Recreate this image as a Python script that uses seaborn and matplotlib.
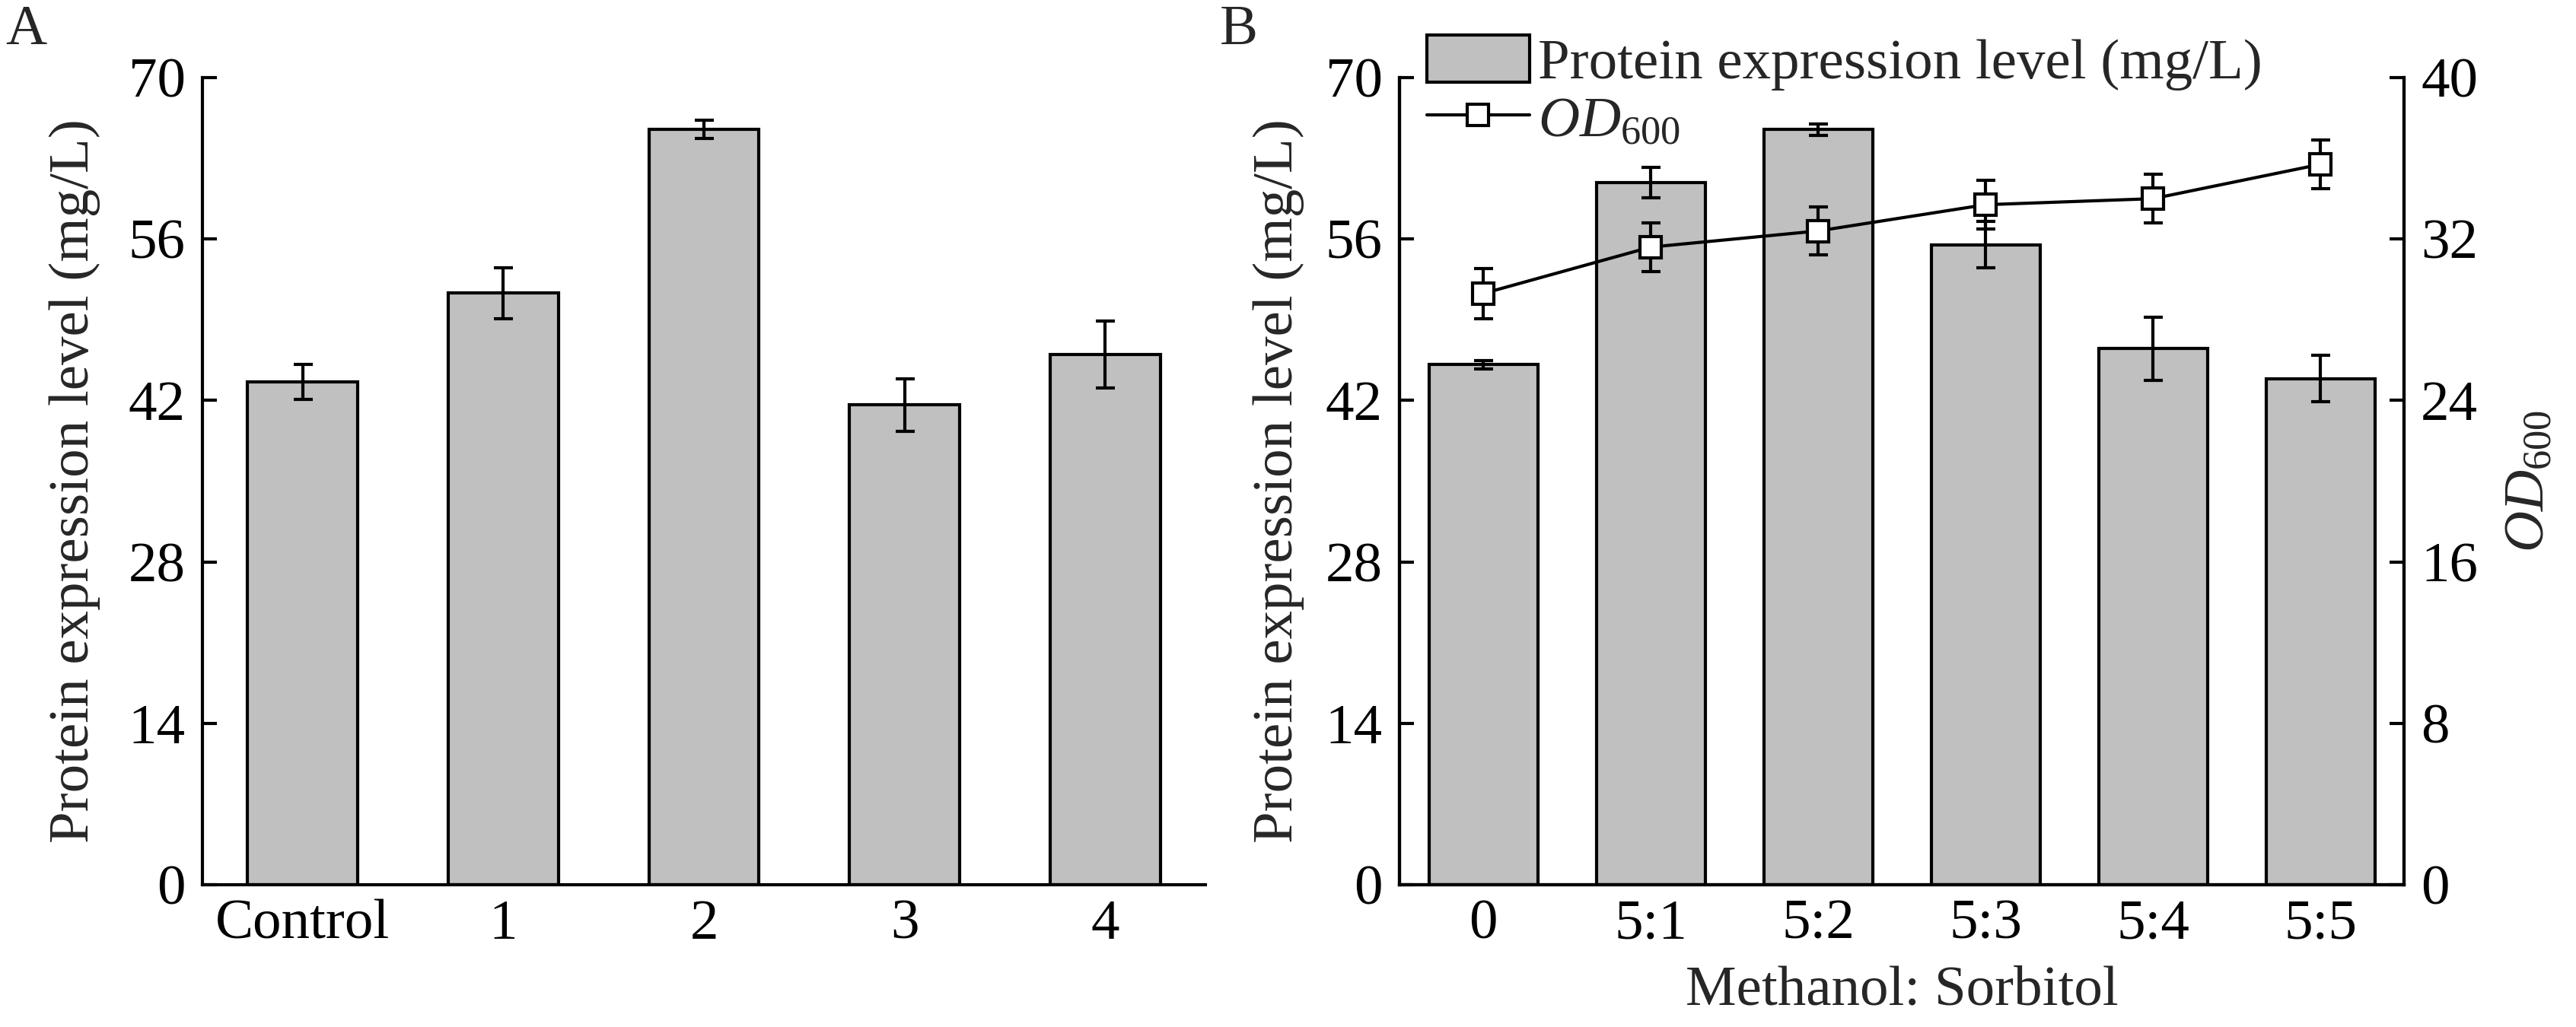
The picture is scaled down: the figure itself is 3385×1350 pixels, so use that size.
import numpy as np
import matplotlib
matplotlib.use("Agg")
import matplotlib.pyplot as plt
import seaborn as sns
from matplotlib.patches import Patch
from matplotlib.lines import Line2D

# data
groups_a = ["Control", "1", "2", "3", "4"]
protein_a = [43.6, 51.3, 65.5, 41.6, 46.0]
protein_a_err = [1.5, 2.2, 0.8, 2.3, 2.9]

ratios_b = ["0", "5:1", "5:2", "5:3", "5:4", "5:5"]
protein_b = [45.1, 60.9, 65.5, 55.5, 46.5, 43.9]
protein_b_err = [0.35, 1.3, 0.5, 2.0, 2.75, 2.0]
od600 = [29.3, 31.6, 32.4, 33.7, 34.0, 35.7]
od600_err = [1.25, 1.2, 1.2, 1.2, 1.2, 1.2]

sns.set_style("ticks")
plt.rcParams["font.family"] = ["Liberation Serif", "DejaVu Serif"]
plt.rcParams["mathtext.fontset"] = "custom"
plt.rcParams["mathtext.rm"] = "Liberation Serif"
plt.rcParams["mathtext.it"] = "Liberation Serif:italic"
plt.rcParams["axes.linewidth"] = 3

FS = 54
BAR_COLOR = "#c0c0c0"
LW = 3
W, H = 3385, 1350

fig = plt.figure(figsize=(W / 100, H / 100), dpi=100)


def box(l, r, t, b):
    return [l / W, 1 - b / H, (r - l) / W, (b - t) / H]


def style_axis(ax):
    ax.tick_params(axis="both", direction="in", length=14, width=LW,
                   labelsize=FS, pad=16, colors="black")
    ax.tick_params(axis="x", pad=14)
    for s in ax.spines.values():
        s.set_linewidth(LW)
        s.set_color("black")


# ---- panel A
axA = fig.add_axes(box(266, 1584, 102, 1163))
sns.barplot(x=groups_a, y=protein_a, color=BAR_COLOR, saturation=1,
            edgecolor="black", linewidth=LW, width=0.55, errorbar=None, ax=axA)
axA.errorbar(np.arange(len(groups_a)), protein_a, yerr=protein_a_err, fmt="none",
             ecolor="black", elinewidth=LW, capsize=9, capthick=LW)
axA.set_xlim(-0.5, len(groups_a) - 0.5)
axA.set_ylim(0, 70)
axA.set_yticks(np.arange(0, 71, 14))
axA.set_ylabel("Protein expression level (mg/L)", fontsize=FS)
axA.yaxis.set_label_coords(-0.102, 0.5)
axA.set_xlabel("")
sns.despine(ax=axA)
style_axis(axA)

# ---- panel B
axB = fig.add_axes(box(1839, 3159, 102, 1163))
sns.barplot(x=ratios_b, y=protein_b, color=BAR_COLOR, saturation=1,
            edgecolor="black", linewidth=LW, width=0.65, errorbar=None, ax=axB)
axB.errorbar(np.arange(len(ratios_b)), protein_b, yerr=protein_b_err, fmt="none",
             ecolor="black", elinewidth=LW, capsize=9, capthick=LW)
axB.set_xlim(-0.5, len(ratios_b) - 0.5)
axB.set_ylim(0, 70)
axB.set_yticks(np.arange(0, 71, 14))
axB.set_ylabel("Protein expression level (mg/L)", fontsize=FS)
axB.yaxis.set_label_coords(-0.095, 0.5)
axB.set_xlabel("Methanol: Sorbitol", fontsize=FS)
axB.xaxis.set_label_coords(0.5, -0.1)
axB.spines["top"].set_visible(False)
style_axis(axB)

axR = axB.twinx()
axR.errorbar(np.arange(len(ratios_b)), od600, yerr=od600_err, fmt="-s",
             color="black", lw=LW, ms=20, mfc="white", mec="black", mew=LW,
             ecolor="black", elinewidth=LW, capsize=9, capthick=LW)
axR.set_ylim(0, 40)
axR.set_yticks(np.arange(0, 41, 8))
axR.set_ylabel("$OD_{600}$", fontsize=FS, rotation=90)
axR.yaxis.set_label_coords(1.1, 0.5)
axR.spines["top"].set_visible(False)
style_axis(axR)

handles = [
    Patch(facecolor=BAR_COLOR, edgecolor="black", linewidth=LW,
          label="Protein expression level (mg/L)"),
    Line2D([0], [0], color="black", lw=LW, marker="s", ms=20, mfc="white",
           mec="black", mew=LW, label="$OD_{600}$"),
]
axB.legend(handles=handles, loc="upper left", bbox_to_anchor=(0.027, 1.053),
           frameon=False, fontsize=FS, handlelength=1.8, handleheight=0.9,
           handletextpad=0.15, labelspacing=0.05, borderpad=0, borderaxespad=0)

fig.text(0.002, 0.995, "A", fontsize=FS, va="top", ha="left")
fig.text(1603 / W, 0.995, "B", fontsize=FS, va="top", ha="left")

fig.savefig("out.png", dpi=100)
